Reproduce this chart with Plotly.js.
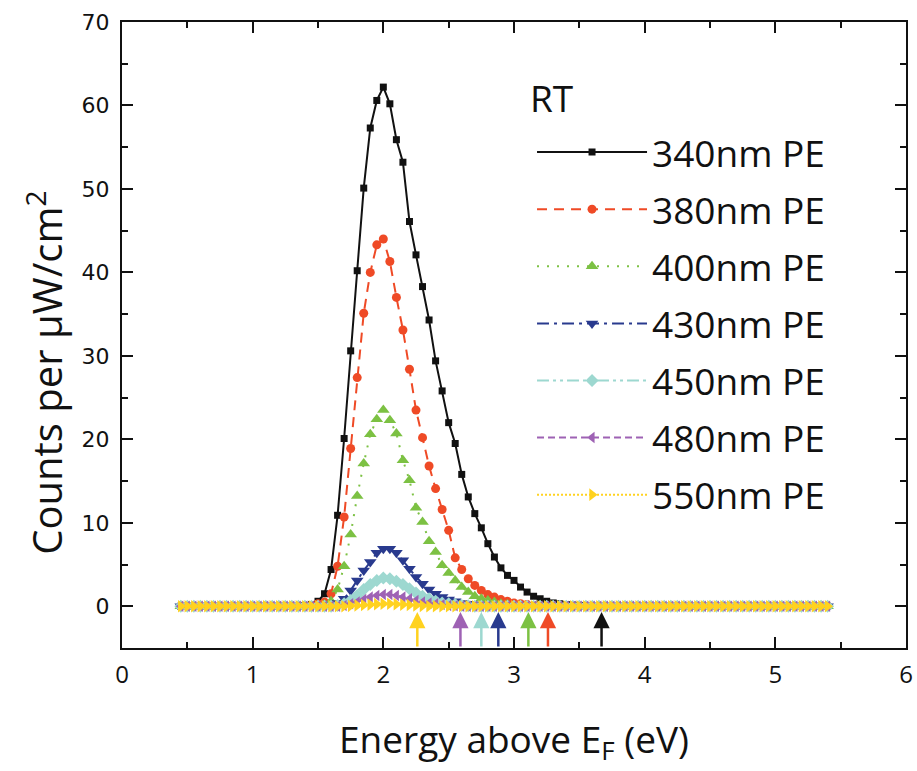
<!DOCTYPE html>
<html><head><meta charset="utf-8">
<script src="https://cdn.plot.ly/plotly-3.0.1.min.js"></script>
<style>html,body{margin:0;padding:0;background:#fff}#chart{width:917px;height:771px}</style>
</head><body><div id="chart"></div>
<script>
const energy = [
0.45,0.50,0.55,0.60,0.65,0.70,0.75,0.80,0.85,0.90,0.95,1.00,1.05,1.10,1.15,1.20,1.25,1.30,1.35,
1.40,1.45,1.50,1.55,1.60,1.65,1.70,1.75,1.80,1.85,
1.90,1.95,2.00,2.05,2.10,2.15,2.20,2.25,2.30,2.35,
2.40,2.45,2.50,2.55,2.60,2.65,2.70,2.75,2.80,2.85,
2.90,2.95,3.00,3.05,3.10,3.15,3.20,3.25,3.30,3.35,
3.40,3.45,3.50,3.55,3.60,3.65,3.70,
3.75,3.80,3.85,3.90,3.95,4.00,4.05,4.10,4.15,4.20,4.25,4.30,4.35,4.40,4.45,4.50,4.55,
4.60,4.65,4.70,4.75,4.80,4.85,4.90,4.95,5.00,5.05,5.10,5.15,5.20,5.25,5.30,5.35,5.40];

const counts340 = [
0,0,0,0,0,0,0,0,0,0,0,0,0,0,0,0,0,0,0,
0.1,0.2,0.6,1.5,4.4,10.9,20.1,30.6,40.2,50.1,
57.3,60.6,62.2,60.2,55.9,53.2,46.1,42.1,38.3,34.3,
29.4,25.8,22.0,19.5,15.8,13.1,11.1,9.4,7.5,5.9,
4.6,3.7,3.1,2.3,1.7,1.2,0.9,0.6,0.4,0.3,
0.2,0.15,0.1,0.05,0,0,0,
0,0,0,0,0,0,0,0,0,0,0,0,0,0,0,0,0,
0,0,0,0,0,0,0,0,0,0,0,0,0,0,0,0,0];

const counts380 = [
0,0,0,0,0,0,0,0,0,0,0,0,0,0,0,0,0,0,0,
0,0.1,0.3,0.5,1.5,4.8,10.7,18.9,27.4,35.1,
40.0,43.3,44.0,41.3,37.0,33.1,28.4,23.5,20.2,16.8,
14.1,11.6,9.1,5.8,4.4,3.3,2.5,1.9,1.4,1.1,
0.8,0.6,0.4,0.3,0.2,0.1,0.05,0,0,0,
0,0,0,0,0,0,0,
0,0,0,0,0,0,0,0,0,0,0,0,0,0,0,0,0,
0,0,0,0,0,0,0,0,0,0,0,0,0,0,0,0,0];

const counts400 = [
0,0,0,0,0,0,0,0,0,0,0,0,0,0,0,0,0,0,0,
0,0,0,0.2,0.6,2.0,4.8,8.6,13.2,17.1,
20.6,22.4,23.5,22.3,20.7,17.5,15.1,11.8,10.1,7.8,
6.5,4.9,4.0,3.1,2.3,1.7,1.2,0.9,0.7,0.5,
0.3,0.2,0.1,0.05,0,0,0,0,0,0,
0,0,0,0,0,0,0,
0,0,0,0,0,0,0,0,0,0,0,0,0,0,0,0,0,
0,0,0,0,0,0,0,0,0,0,0,0,0,0,0,0,0];

const counts430 = [
0,0,0,0,0,0,0,0,0,0,0,0,0,0,0,0,0,0,0,
0,0,0,0,0.1,0.4,0.9,1.9,3.1,4.3,
5.3,6.4,6.9,6.9,6.4,5.5,4.5,3.5,2.7,2.0,
1.5,1.1,0.8,0.6,0.4,0.3,0.2,0.1,0.05,0,
0,0,0,0,0,0,0,0,0,0,
0,0,0,0,0,0,0,
0,0,0,0,0,0,0,0,0,0,0,0,0,0,0,0,0,
0,0,0,0,0,0,0,0,0,0,0,0,0,0,0,0,0];

const counts450 = [
0,0,0,0,0,0,0,0,0,0,0,0,0,0,0,0,0,0,0,
0,0,0,0,0,0.1,0.3,0.7,1.3,2.0,
2.6,3.1,3.4,3.3,3.0,2.6,2.1,1.6,1.2,0.9,
0.6,0.4,0.3,0.2,0.1,0.05,0,0,0,0,
0,0,0,0,0,0,0,0,0,0,
0,0,0,0,0,0,0,
0,0,0,0,0,0,0,0,0,0,0,0,0,0,0,0,0,
0,0,0,0,0,0,0,0,0,0,0,0,0,0,0,0,0];

const counts480 = [
0,0,0,0,0,0,0,0,0,0,0,0,0,0,0,0,0,0,0,
0,0,0,0,0,0,0.1,0.3,0.5,0.8,
1.1,1.3,1.4,1.4,1.3,1.1,0.9,0.7,0.5,0.4,
0.3,0.2,0.1,0.05,0,0,0,0,0,0,
0,0,0,0,0,0,0,0,0,0,
0,0,0,0,0,0,0,
0,0,0,0,0,0,0,0,0,0,0,0,0,0,0,0,0,
0,0,0,0,0,0,0,0,0,0,0,0,0,0,0,0,0];

const counts550 = [
0,0,0,0,0,0,0,0,0,0,0,0,0,0,0,0,0,0,0,
0,0,0,0,0,0,0,0.05,0.1,0.15,
0.2,0.25,0.3,0.3,0.25,0.2,0.15,0.1,0.05,0,
0,0,0,0,0,0,0,0,0,0,
0,0,0,0,0,0,0,0,0,0,
0,0,0,0,0,0,0,
0,0,0,0,0,0,0,0,0,0,0,0,0,0,0,0,0,
0,0,0,0,0,0,0,0,0,0,0,0,0,0,0,0,0];

const seriesNames = ['340nm PE','380nm PE','400nm PE','430nm PE','450nm PE','480nm PE','550nm PE'];
const seriesCounts = [counts340, counts380, counts400, counts430, counts450, counts480, counts550];
// photon energy markers (arrows), eV
const arrowEnergies = [3.67, 3.26, 3.11, 2.88, 2.75, 2.59, 2.26];
const xTickLabels = ['0','1','2','3','4','5','6'];
const yTickLabels = ['0','10','20','30','40','50','60','70'];
const legendTitle = 'RT';
const xTitle = 'Energy above E<sub>F</sub> (eV)';
const yTitle = 'Counts per μW/cm<sup>2</sup>';

const colors = ['#111111','#EF4A26','#7CC143','#293A8E','#9DD8D0','#9E62B4','#FFD21F'];
const dashes = ['solid','10px,7px','2px,8px','12px,5px,3px,5px','12px,4px,3px,4px,3px,4px','7px,4px','2px,2px'];
const symbols = ['square','circle','triangle-up','triangle-down','diamond','triangle-left','triangle-right'];
const sizes = [7,9,11,11,10,10,11];

seriesCounts.forEach(a => { if (a.length !== energy.length) throw new Error('length ' + a.length); });

const traces = seriesNames.map((n, i) => ({
  type: 'scatter', mode: 'lines+markers', name: n,
  x: energy, y: seriesCounts[i], legendgroup: 'g' + i,
  line: {color: colors[i], width: 2, dash: dashes[i]},
  marker: {symbol: symbols[i], size: sizes[i], color: colors[i]}
}));

const annotations = arrowEnergies.map((e, i) => ({
  x: e, y: -0.7, ax: e, ay: -5, xref: 'x', yref: 'y', axref: 'x', ayref: 'y',
  text: '', showarrow: true, arrowhead: 2, arrowsize: 1.3, arrowwidth: 2.5,
  arrowcolor: colors[i], standoff: 0
}));
annotations.push({
  xref: 'paper', yref: 'paper', x: 0.518, y: 0.880, xanchor: 'left', yanchor: 'middle',
  text: legendTitle, showarrow: false,
  font: {family: 'Open Sans, sans-serif', size: 37, color: '#111'}
});
// y axis title drawn as a rotated annotation so it can sit slightly below centre like the original
annotations.push({
  xref: 'paper', yref: 'paper', x: -0.098, y: 0.44, xanchor: 'center', yanchor: 'middle',
  text: yTitle, textangle: -90, showarrow: false,
  font: {family: 'Open Sans, sans-serif', size: 40, color: '#111'}
});

const layout = {
  width: 917, height: 771,
  margin: {l: 122, r: 11, t: 22, b: 123},
  paper_bgcolor: '#fff', plot_bgcolor: '#fff',
  showlegend: true,
  legend: {
    x: 0.523, xanchor: 'left', y: 0.841, yanchor: 'top',
    bgcolor: 'rgba(0,0,0,0)', borderwidth: 0,
    font: {family: 'Open Sans, sans-serif', size: 37, color: '#111'},
    itemwidth: 110, tracegroupgap: 6
  },
  xaxis: {
    range: [0, 6], tickvals: [0,1,2,3,4,5,6], ticktext: xTickLabels,
    ticks: 'inside', ticklen: 11, tickwidth: 2, tickcolor: '#111',
    showline: true, linewidth: 2, linecolor: '#111', mirror: 'allticks',
    showgrid: false, zeroline: false,
    minor: {dtick: 0.5, tick0: 0, ticks: 'inside', ticklen: 6, tickwidth: 2, tickcolor: '#111', showgrid: false},
    tickfont: {family: 'Open Sans, sans-serif', size: 24, color: '#111'},
    ticklabelstandoff: 4,
    title: {text: xTitle, font: {family: 'Open Sans, sans-serif', size: 37, color: '#111'}, standoff: 38}
  },
  yaxis: {
    range: [-5, 70], tickvals: [0,10,20,30,40,50,60,70], ticktext: yTickLabels,
    ticks: 'inside', ticklen: 11, tickwidth: 2, tickcolor: '#111',
    showline: true, linewidth: 2, linecolor: '#111', mirror: 'allticks',
    showgrid: false, zeroline: false,
    minor: {dtick: 5, tick0: 0, ticks: 'inside', ticklen: 6, tickwidth: 2, tickcolor: '#111', showgrid: false},
    tickfont: {family: 'DejaVu Sans, sans-serif', size: 22, color: '#111'},
    ticklabelstandoff: 6
  },
  annotations: annotations
};

Plotly.newPlot('chart', traces, layout, {displayModeBar: false, staticPlot: true});
</script></body></html>
